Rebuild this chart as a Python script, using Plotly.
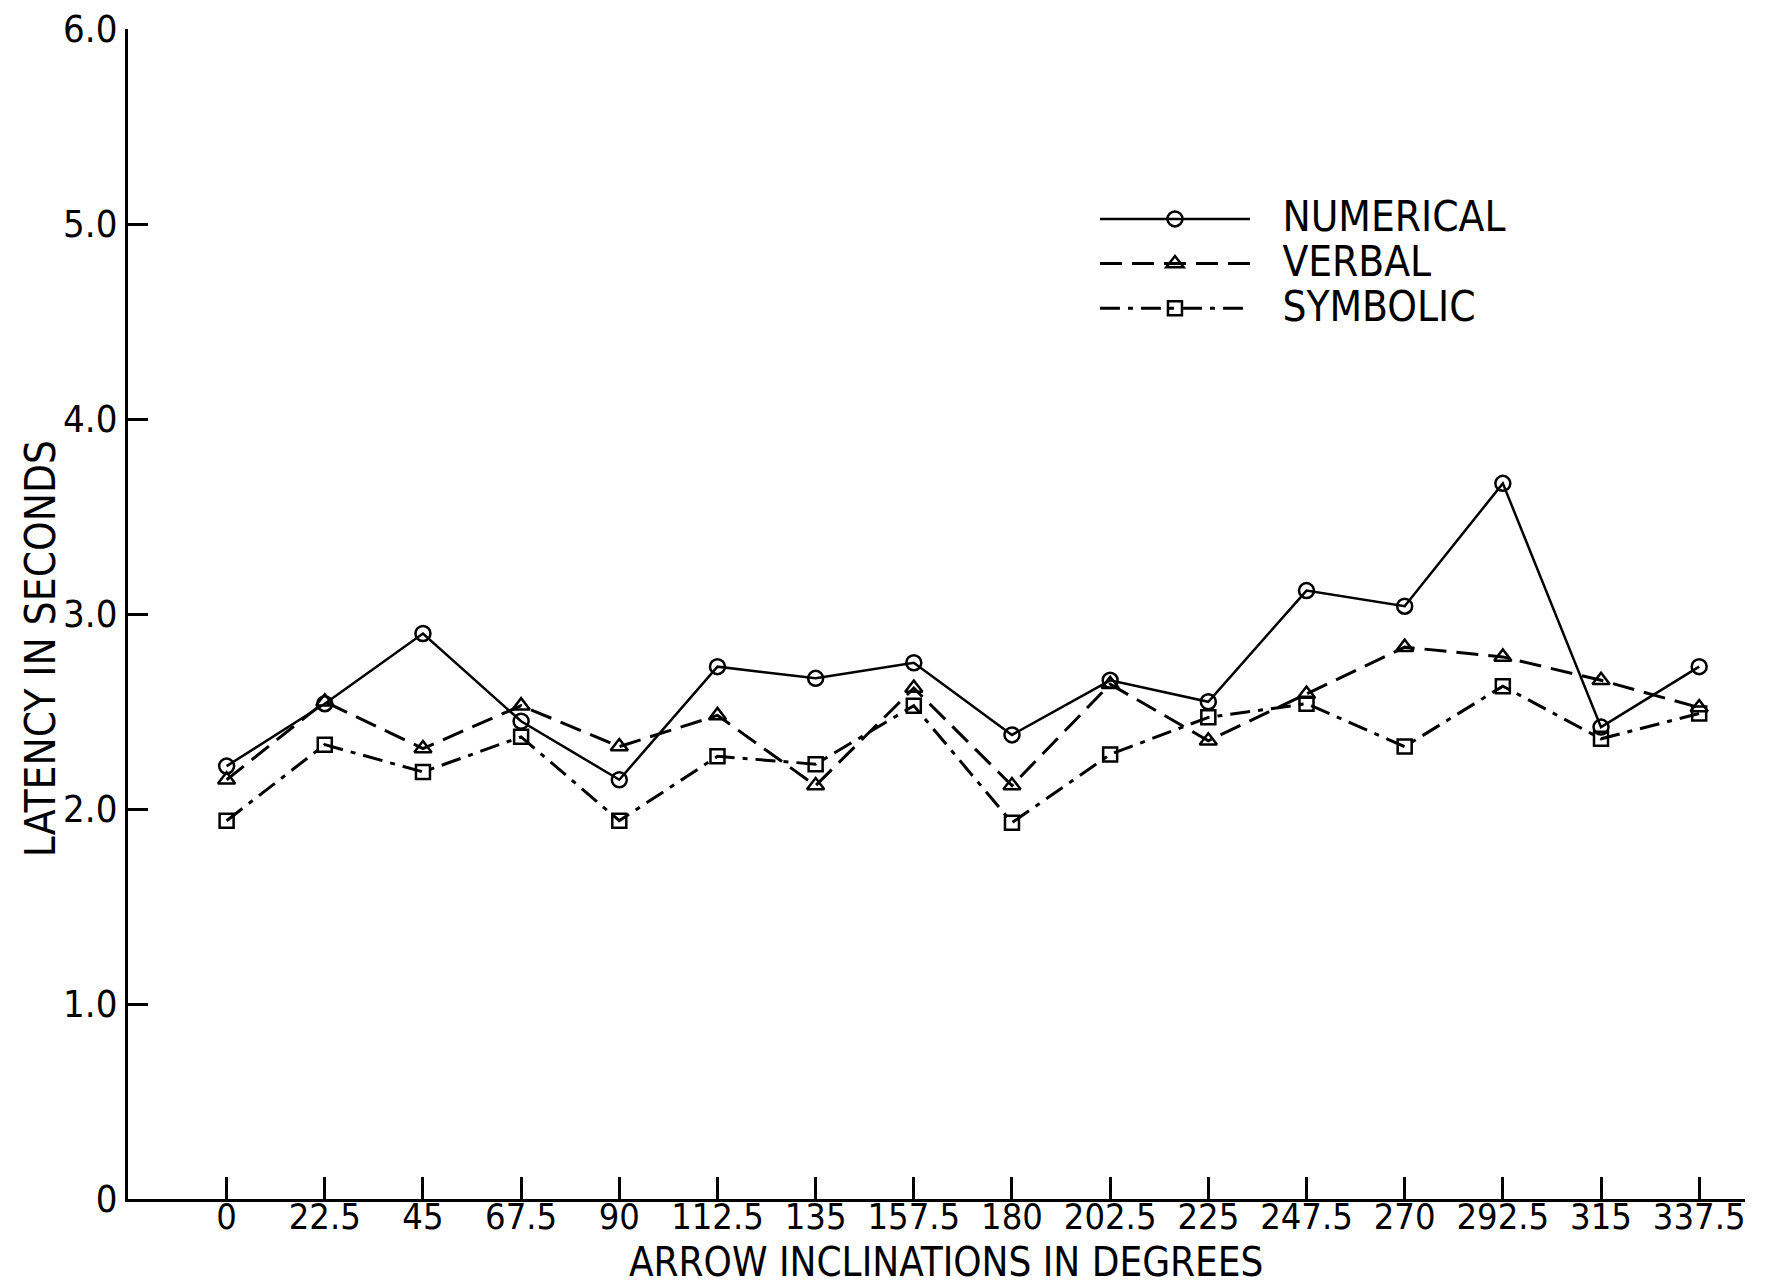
import plotly.graph_objects as go

degrees = [0, 22.5, 45, 67.5, 90, 112.5, 135, 157.5, 180, 202.5, 225, 247.5, 270, 292.5, 315, 337.5]
x_labels = ["0", "22.5", "45", "67.5", "90", "112.5", "135", "157.5", "180", "202.5",
            "225", "247.5", "270", "292.5", "315", "337.5"]

numerical = [2.22, 2.54, 2.90, 2.45, 2.15, 2.73, 2.67, 2.75, 2.38, 2.66, 2.55, 3.12, 3.04, 3.67, 2.42, 2.73]
verbal = [2.15, 2.55, 2.31, 2.53, 2.32, 2.48, 2.12, 2.62, 2.12, 2.64, 2.35, 2.59, 2.83, 2.78, 2.66, 2.52]
symbolic = [1.94, 2.33, 2.19, 2.37, 1.94, 2.27, 2.23, 2.53, 1.93, 2.28, 2.47, 2.54, 2.32, 2.63, 2.36, 2.49]

series_names = ["NUMERICAL", "VERBAL", "SYMBOLIC"]

y_ticks = [0, 1, 2, 3, 4, 5, 6]
y_labels = ["0", "1.0", "2.0", "3.0", "4.0", "5.0", "6.0"]

x_title = "ARROW INCLINATIONS IN DEGREES"
y_title = "LATENCY IN SECONDS"

FONT = "Liberation Sans Narrow, DejaVu Sans Condensed, Arial Narrow, Roboto, sans-serif"


def legend_label(name):
    return "\u00a0\u00a0\u00a0<span style='font-size:42px'>" + name + "</span>"


fig = go.Figure()
fig.add_trace(go.Scatter(
    x=degrees, y=numerical, name=legend_label(series_names[0]), mode="lines+markers",
    line=dict(color="black", width=2.5, dash="solid"),
    marker=dict(symbol="circle-open", size=15, color="black", line=dict(width=2.5)),
))
fig.add_trace(go.Scatter(
    x=degrees, y=verbal, name=legend_label(series_names[1]), mode="lines+markers",
    line=dict(color="black", width=3, dash="22px,10px"),
    marker=dict(symbol="triangle-up-open", size=15, color="black", line=dict(width=2.5)),
))
fig.add_trace(go.Scatter(
    x=degrees, y=symbolic, name=legend_label(series_names[2]), mode="lines+markers",
    line=dict(color="black", width=3, dash="20px,8px,5px,8px"),
    marker=dict(symbol="square-open", size=14, color="black", line=dict(width=2.5)),
))

fig.update_layout(
    width=1760, height=1280,
    margin=dict(l=120, r=23, t=21, b=89),
    paper_bgcolor="white", plot_bgcolor="white",
    font=dict(family=FONT, color="black", size=38),
    showlegend=True,
    legend=dict(
        x=0.598, y=0.861, xanchor="left", yanchor="top",
        bgcolor="rgba(0,0,0,0)", itemwidth=150,
        font=dict(family=FONT, size=32, color="black"),
        tracegroupgap=0,
    ),
    xaxis=dict(
        range=[-22.6, 348], showgrid=False, zeroline=False, automargin=False,
        showline=True, linecolor="black", linewidth=3,
        ticks="inside", ticklen=22, tickwidth=2.5, tickcolor="black",
        tickvals=degrees, ticktext=x_labels, ticklabelstandoff=-16,
        ticklabeloverflow="allow",
        tickfont=dict(family=FONT, size=36, color="black"),
    ),
    yaxis=dict(
        range=[0, 6], showgrid=False, zeroline=False, automargin=False,
        showline=True, linecolor="black", linewidth=3,
        ticks="inside", ticklen=20, tickwidth=2.5, tickcolor="black",
        tickvals=y_ticks, ticktext=y_labels, ticklabeloverflow="allow",
        tickfont=dict(family=FONT, size=38, color="black"),
    ),
    annotations=[
        dict(text=x_title, xref="paper", yref="paper", x=0.506, y=-0.0538,
             xanchor="center", yanchor="middle", showarrow=False,
             font=dict(family=FONT, size=40, color="black")),
        dict(text=y_title, xref="paper", yref="paper", x=-0.0544, y=0.470,
             xanchor="center", yanchor="middle", showarrow=False, textangle=-90,
             font=dict(family=FONT, size=42, color="black")),
    ],
)

fig.write_html("out.html")
